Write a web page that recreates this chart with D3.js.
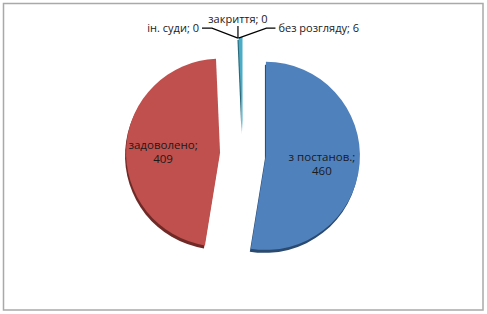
<!DOCTYPE html>
<html lang="uk">
<head>
  <meta charset="utf-8">
  <title>Pie</title>
  <script src="https://cdnjs.cloudflare.com/ajax/libs/d3/7.8.5/d3.min.js"></script>
  <style>
    body { margin: 0; background: #fff; }
    text { font-family: 'Open Sans', sans-serif; fill: #1a1a1a; }
  </style>
</head>
<body>
<svg id="chart" width="487" height="314"></svg>
<script>
// chart data
var categories = ['з постанов.', 'задоволено', 'ін. суди', 'закриття', 'без розгляду'];
var values = [460, 409, 0, 0, 6];
var colors = ['#4f81bd', '#c0504d', '#9bbb59', '#8064a2', '#4bacc6'];
var sideColors = ['#2b4a70', '#6f2a28', '#5a6e33', '#4a3a5f', '#2a6a7a'];

var svg = d3.select('#chart');
var cx = 243, cy = 154, r = 94, explode = 23, depth = 3;

// frame
svg.append('rect').attr('x', 3.5).attr('y', 3.5).attr('width', 479.5).attr('height', 306.5)
  .style('fill', 'none').style('stroke', '#a9a9a9').style('stroke-width', 1.5);

var data = categories.map(function(c, i){ return { name: c, value: values[i], i: i }; });
var pie = d3.pie().sort(null).value(function(d){ return d.value; });
var arcs = pie(data);
var arc = d3.arc().innerRadius(0).outerRadius(r);

function offset(d){
  var a = (d.startAngle + d.endAngle) / 2;
  return [explode * Math.sin(a), -explode * Math.cos(a)];
}

var g = svg.append('g').attr('transform', 'translate(' + cx + ',' + cy + ')');

// 3D side (dark edge below each slice)
g.selectAll('.side').data(arcs.filter(function(d){ return d.value > 0; })).enter()
  .append('path').attr('class', 'side')
  .attr('transform', function(d){ var o = offset(d); return 'translate(' + (o[0] - 1) + ',' + (o[1] + depth) + ')'; })
  .attr('d', arc)
  .style('fill', function(d){ return sideColors[d.data.i]; });

g.selectAll('.slice').data(arcs.filter(function(d){ return d.value > 0; })).enter()
  .append('path').attr('class', 'slice')
  .attr('transform', function(d){ var o = offset(d); return 'translate(' + o[0] + ',' + o[1] + ')'; })
  .attr('d', arc)
  .style('fill', function(d){ return colors[d.data.i]; });

// labels inside the two big slices
var inner = [{ i: 0, dx: 56, dy: 5 }, { i: 1, dx: -57, dy: -4 }];
inner.forEach(function(p){
  var d = arcs[p.i], o = offset(d);
  var x = o[0] + p.dx, y = o[1] + p.dy;
  g.append('text').attr('text-anchor', 'middle').style('font-size', '11.5px')
    .attr('x', x).attr('y', y).text(d.data.name + ';');
  g.append('text').attr('text-anchor', 'middle').style('font-size', '11.5px')
    .attr('x', x).attr('y', y + 14).text(d.data.value);
});

// outside labels for the small slices with leader lines
var outer = [
  { i: 2, pts: [[-26, -10], [-36, -10]], anchor: 'end', tx: -39, ty: -6 },
  { i: 3, pts: [[0, -12]], anchor: 'middle', tx: 0, ty: -15 },
  { i: 4, pts: [[28, -10], [37, -10]], anchor: 'start', tx: 40, ty: -6 }
];
outer.forEach(function(p){
  var d = arcs[p.i], o = offset(d), a = d.startAngle;
  var ax = o[0] + r * Math.sin(a), ay = o[1] - r * Math.cos(a) + 1;
  var line = [[ax, ay]].concat(p.pts.map(function(q){ return [ax + q[0], ay + q[1]]; }));
  g.append('path').attr('d', d3.line()(line))
    .style('fill', 'none').style('stroke', '#000').style('stroke-width', 1.2);
  g.append('text').attr('text-anchor', p.anchor).style('font-size', '11px')
    .attr('x', ax + p.tx).attr('y', ay + p.ty)
    .text(d.data.name + '; ' + d.data.value);
});
</script>
</body>
</html>
